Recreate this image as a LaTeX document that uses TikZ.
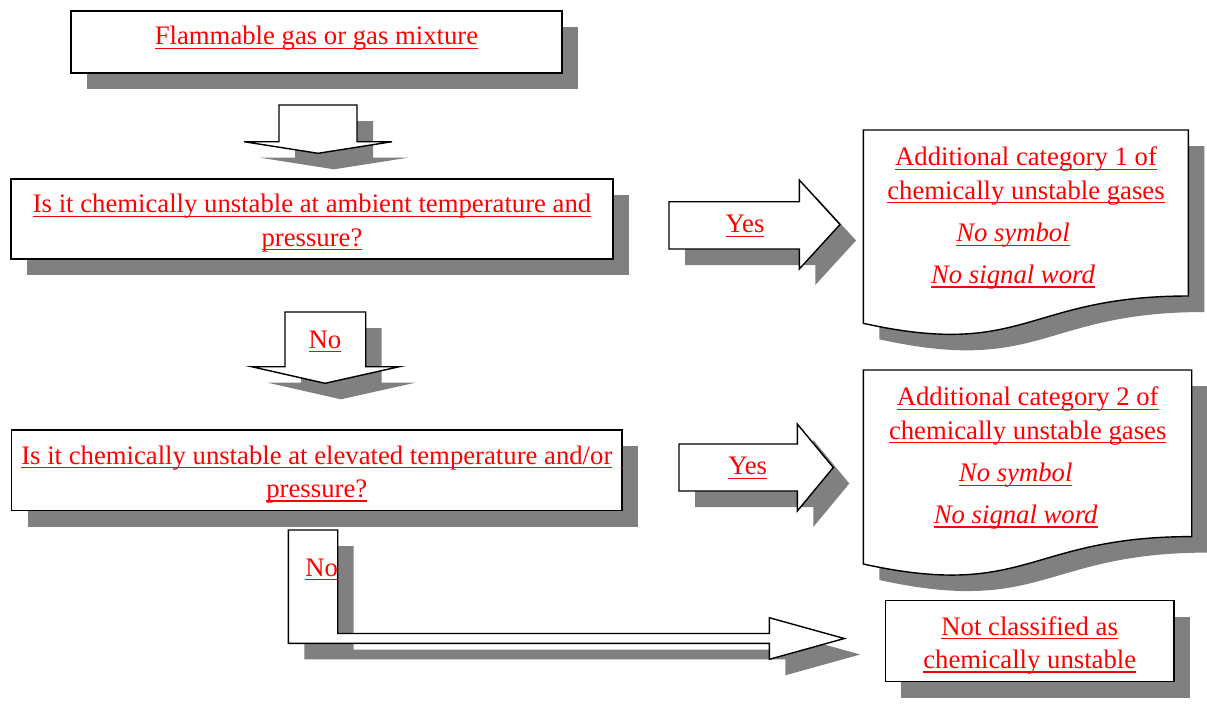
\documentclass[tikz,border=0pt]{standalone}
\usepackage{fontspec}
\setmainfont{Liberation Serif}
\usetikzlibrary{positioning,shadows}

\newsavebox\ulbox
\newcommand{\ulred}[1]{\sbox\ulbox{#1}\rlap{\rule[-2.4pt]{\wd\ulbox}{0.75pt}}\usebox\ulbox}

\begin{document}
\begin{tikzpicture}[x=0.02cm, y=-0.02cm,
    shadowed/.style={drop shadow={shadow xshift=0.32cm, shadow yshift=-0.32cm, fill=gray, opacity=1}},
    redtext/.style={text=red, align=center, inner sep=0pt, font=\fontsize{15.2}{19}\selectfont},
    boxnode/.style={rectangle, draw=black, line width=0.8pt, fill=white, shadowed},
    arrowshape/.style={draw=black, line width=0.8pt, fill=white, line join=miter, shadowed},
    docshape/.style={draw=black, line width=0.8pt, fill=white, shadowed}]
    \useasboundingbox (0,0) rectangle (1207,708);

    % Boxes
    \node[boxnode, minimum width=9.82cm, minimum height=1.24cm] (gas) at (316.5,42) {};
    \node[redtext] (gastext) at ([yshift=0.07cm]gas.center) {\ulred{Flammable gas or gas mixture}};
    \node[boxnode, minimum width=12.04cm, minimum height=1.6cm] (ambient) at (312,219) {};
    \node[redtext] (ambienttext) at ([yshift=-0.08cm]ambient.center)
        {\ulred{Is it chemically unstable at ambient temperature and}\\ \ulred{pressure?}};
    \node[boxnode, minimum width=12.21cm, minimum height=1.61cm] (elevated) at (316.8,470.4) {};
    \node[redtext] (elevatedtext) at ([yshift=-0.08cm]elevated.center)
        {\ulred{Is it chemically unstable at elevated temperature and/or}\\ \ulred{pressure?}};
    \node[boxnode, minimum width=5.77cm, minimum height=1.62cm] (notcl) at (1029.7,641.2) {};
    \node[redtext] (notcltext) at ([yshift=-0.08cm]notcl.center)
        {\ulred{Not classified as}\\ \ulred{chemically unstable}};

    % Documents
    \filldraw[docshape] (863.3,130) -- (1188.3,130) -- (1188.3,296)
        .. controls (1025.8,296) and (1025.8,359.2) .. (863.3,323.3) -- cycle;
    \node[redtext] (cat1) at (1026,176) {\ulred{Additional category 1 of}\\ \ulred{chemically unstable gases}};
    \node[redtext] (sym1) at (1013,235.3) {\ulred{\itshape No symbol}};
    \node[redtext] (word1) at (1013,277) {\ulred{\itshape No signal word}};

    \filldraw[docshape] (863.3,370) -- (1191.7,370) -- (1191.7,536.6)
        .. controls (1027.5,536.6) and (1027.5,600) .. (863.3,564) -- cycle;
    \node[redtext] (cat2) at (1027.7,416) {\ulred{Additional category 2 of}\\ \ulred{chemically unstable gases}};
    \node[redtext] (sym2) at (1015.7,475.3) {\ulred{\itshape No symbol}};
    \node[redtext] (word2) at (1015.7,517) {\ulred{\itshape No signal word}};

    % Block arrows
    \filldraw[arrowshape] (279,105) -- (357,105) -- (357,141.7) -- (392,141.7)
        -- (318,153.3) -- (244,141.7) -- (279,141.7) -- cycle;
    \filldraw[arrowshape] (285,312) -- (365.7,312) -- (365.7,366.7) -- (399.3,366.7)
        -- (325,383.3) -- (251.7,366.7) -- (285,366.7) -- cycle;
    \node[redtext] (no1) at (325,341.5) {\ulred{No}};

    \filldraw[arrowshape] (669,201.7) -- (799.3,201.7) -- (799.3,180) -- (840,224.5)
        -- (799.3,269) -- (799.3,249) -- (669,249) -- cycle;
    \node[redtext] (yes1) at (745,226) {\ulred{Yes}};
    \filldraw[arrowshape] (679,444) -- (797.3,444) -- (797.3,424) -- (833.3,467.5)
        -- (797.3,511) -- (797.3,491) -- (679,491) -- cycle;
    \node[redtext] (yes2) at (747.7,468) {\ulred{Yes}};

    \filldraw[arrowshape] (288.3,530) -- (337.7,530) -- (337.7,633.5) -- (769.3,633.5)
        -- (769.3,617.7) -- (844.3,638.5) -- (769.3,659.3) -- (769.3,643.3)
        -- (288.3,643.3) -- cycle;
    \node[redtext] (no2) at (321.7,569.5) {\ulred{No}};
\end{tikzpicture}
\end{document}
